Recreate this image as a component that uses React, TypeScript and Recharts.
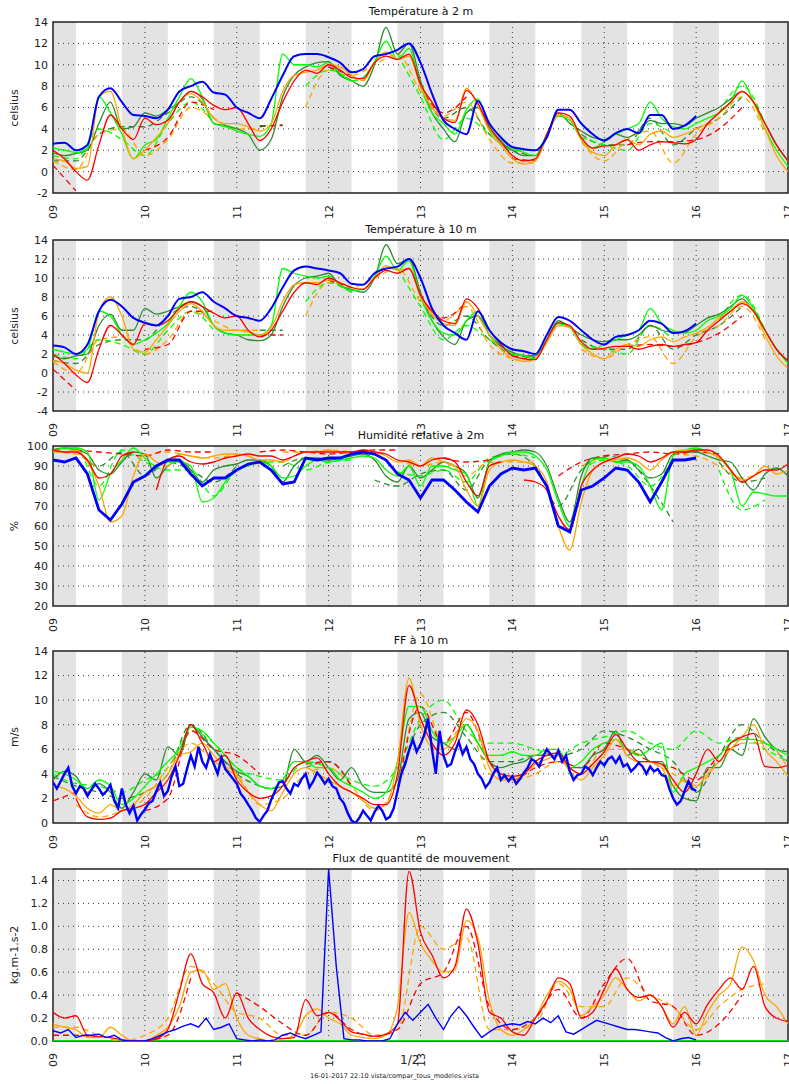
import { LineChart, Line, XAxis, YAxis, ReferenceArea, ReferenceLine } from 'recharts'

const FONT = '"DejaVu Sans", sans-serif'

const DAY_TICKS = [0, 1, 2, 3, 4, 5, 6, 7, 8]
const DAY_LABELS = ['09', '10', '11', '12', '13', '14', '15', '16', '17']
const NIGHTS = [[0, 0.25], [0.75, 1.25], [1.75, 2.25], [2.75, 3.25], [3.75, 4.25], [4.75, 5.25], [5.75, 6.25], [6.75, 7.25], [7.75, 8]]

const C = { obs: '#0000ff', red: '#ff0000', orange: '#ffa500', lime: '#00ff00', dkgreen: '#2e8b2e' }

// ---------- Température à 2 m (obs 3h, models 3h, dashed runs 6h)
const T2_OBS = [
  2.6, 2.7, 2.0, 2.5, 7.0, 7.8, 6.5, 5.3,
  5.2, 5.0, 5.8, 7.5, 8.0, 8.4, 7.4, 7.2,
  6.0, 5.5, 5.0, 6.8, 9.0, 10.8, 11.0, 11.0,
  10.7, 10.2, 9.3, 9.6, 10.8, 11.0, 11.4, 12.0,
  10.2, 7.3, 4.8, 4.0, 3.5, 6.6, 4.5, 3.2,
  2.3, 2.1, 2.0, 3.2, 5.8, 5.8, 4.5, 3.5,
  2.9, 3.6, 4.0, 3.6, 5.3, 5.3, 4.0, 4.3,
  5.2,
]
const T2_RED = [
  2.0, 1.2, 0.0, -0.8, 2.5, 5.3, 4.0, 3.0,
  5.0, 4.4, 4.8, 6.5, 7.5, 7.0, 6.2, 5.8,
  6.0, 4.5, 2.9, 4.0, 6.5, 8.5, 9.5, 9.2,
  10.0, 9.5, 8.8, 8.7, 10.2, 10.8, 10.5, 11.0,
  8.2, 6.5, 5.0, 4.6, 7.6, 6.4, 4.2, 2.8,
  1.5, 1.0, 1.2, 3.5, 5.5, 5.2, 3.2, 2.2,
  2.4, 2.5, 3.0, 2.0, 2.5, 2.8, 2.7, 2.6,
  3.0, 4.5, 5.5, 6.5, 7.5, 6.5, 4.5, 2.5,
  1.0,
]
const T2_ORANGE = [
  1.2, 1.0, 0.3, 0.5, 7.0, 7.5, 4.0, 1.2,
  2.0, 3.2, 4.5, 6.5, 7.3, 6.5, 5.0, 4.5,
  4.5, 4.2, 3.8, 4.5, 7.5, 9.0, 9.3, 9.5,
  10.0, 9.8, 9.0, 8.5, 10.2, 11.2, 10.5, 10.8,
  8.0, 6.0, 5.0, 4.8, 7.8, 6.2, 3.8, 2.5,
  1.2, 0.7, 1.0, 3.2, 5.3, 5.0, 3.0, 1.8,
  1.5, 2.5, 3.0, 2.5, 3.5, 3.8, 3.2, 3.5,
  4.0, 4.5, 5.5, 6.5, 7.5, 6.5, 4.0, 1.5,
  0.0,
]
const T2_LIME = [
  2.2, 2.0, 1.8, 2.2, 7.0, 5.5, 3.5, 1.2,
  2.5, 3.0, 5.0, 7.0, 8.7, 7.0, 4.5, 4.2,
  3.8, 3.5, 3.3, 4.5, 11.0, 10.0, 10.0, 9.8,
  10.2, 9.2, 8.5, 8.8, 10.3, 12.2, 10.5, 11.5,
  8.0, 5.5, 4.5, 3.5, 5.8, 6.8, 4.0, 3.0,
  2.2, 1.8, 1.5, 3.5, 5.2, 4.8, 3.0, 2.2,
  2.8, 3.5, 4.0, 4.5, 6.5, 5.0, 4.2, 4.0,
  4.5, 5.0, 5.5, 6.5, 8.5, 6.5, 4.0, 2.0,
  0.5,
]
const T2_DKGREEN = [
  1.8, 1.5, 1.7, 2.0, 4.5, 6.5, 4.0, 4.2,
  5.5, 5.2, 5.8, 6.5, 7.5, 6.8, 4.5, 4.3,
  4.0, 3.5, 2.0, 3.0, 7.0, 9.0, 9.8, 10.2,
  10.3, 9.0, 8.5, 8.0, 10.0, 13.5, 11.0, 12.0,
  8.5, 5.5, 4.0, 2.8, 5.5, 6.0, 4.0, 2.8,
  2.0, 1.5, 1.5, 3.5, 5.5, 4.5, 3.8, 3.2,
  3.0, 3.5, 3.2, 3.8, 4.8, 4.5, 4.5, 4.3,
  5.0, 5.5, 6.0, 6.8, 7.5, 6.5, 4.5, 2.5,
  1.0,
]
const T2_RED_D = [
  0.6, -1.8, null, null, 2.0, 3.2, 6.5, 5.8, null, 4.3, 4.3, null,
  9.8, 9.0, null, null, 8.0, 5.5, 7.0, null, 1.2, 1.0, null, null,
  null, 2.5, 2.8, 2.8, 3.0, 4.0, 6.0, null, null,
]
const T2_ORANGE_D = [
  1.0, 0.2, 3.5, 4.0, 1.5, 3.0, 6.0, 5.0, 4.0, 4.0, null, 6.0,
  9.5, 9.0, 10.0, 11.0, 7.5, 5.2, 6.5, 3.0, 0.8, 0.8, null, 2.8,
  1.0, 3.0, 3.8, 0.8, 3.5, 5.0, 7.0, 3.5, null,
]
const T2_LIME_D = [
  1.5, 1.2, 4.0, 3.0, 1.5, 4.5, 6.5, 4.5, null, 3.0, null, 8.0,
  9.5, 8.5, null, 11.0, 7.0, 3.0, 5.0, 3.5, 2.0, 2.0, null, 3.2,
  2.5, 2.0, 4.5, 3.5, null, 5.5, 8.0, 4.5, null,
]
const T2_DKGREEN_D = [
  1.0, 1.0, 3.5, 4.2, 4.2, 5.5, 7.0, 5.0, null, 4.2, 4.4, null,
  9.8, 8.5, null, null, 8.0, 5.0, 6.0, 3.5, 2.0, 1.5, null, 3.5,
  2.5, 2.5, 5.0, 2.5, 4.0, 5.0, 7.0, null, null,
]

// ---------- Température à 10 m
const T10_OBS = [
  2.9, 2.7, 2.0, 3.0, 6.5, 7.7, 7.0, 5.8,
  5.3, 5.0, 6.0, 7.8, 8.0, 8.5, 7.5, 6.8,
  6.0, 5.8, 5.5, 6.8, 9.0, 10.8, 11.2, 11.0,
  10.8, 10.5, 9.4, 9.3, 10.5, 11.0, 11.2, 12.0,
  10.0, 6.8, 5.0, 4.2, 3.5, 6.5, 4.5, 3.2,
  2.5, 2.3, 2.0, 4.0, 5.9, 5.5, 4.5, 3.5,
  3.0, 3.8, 4.0, 4.5, 5.5, 5.2, 4.2, 4.4,
  5.2,
]
const T10_RED = [
  2.0, 1.0, -0.2, -1.0, 2.5, 5.0, 4.0, 3.0,
  5.2, 5.0, 5.5, 6.8, 7.5, 7.0, 6.3, 5.8,
  6.0, 4.5, 3.8, 4.5, 6.5, 8.5, 9.5, 9.3,
  10.0, 9.5, 9.0, 8.8, 10.0, 10.8, 10.5, 11.0,
  8.2, 6.5, 5.5, 5.2, 7.8, 6.8, 4.5, 3.0,
  1.8, 1.5, 1.4, 3.5, 5.3, 5.0, 3.3, 2.5,
  2.6, 2.8, 2.8, 2.5, 2.8, 3.0, 2.8, 3.0,
  3.2, 4.5, 5.5, 6.5, 7.3, 6.5, 4.5, 2.5,
  1.3,
]
const T10_ORANGE = [
  1.3, 1.0, 0.3, 0.0, 6.5, 8.0, 6.0, 2.5,
  2.2, 3.5, 5.0, 6.5, 7.3, 6.5, 5.0, 4.5,
  4.5, 4.3, 4.0, 4.8, 7.5, 9.3, 9.5, 9.5,
  9.8, 9.5, 9.0, 8.8, 10.0, 11.3, 10.8, 11.0,
  8.0, 6.2, 5.2, 5.0, 7.5, 6.0, 4.0, 2.5,
  1.5, 1.2, 1.5, 3.2, 5.0, 4.8, 3.0, 2.0,
  1.5, 2.5, 3.0, 2.8, 3.5, 3.8, 3.3, 3.8,
  4.2, 4.8, 5.8, 6.5, 7.5, 6.5, 4.0, 1.8,
  0.5,
]
const T10_LIME = [
  2.5, 2.2, 2.0, 2.5, 6.5, 6.0, 4.0, 3.0,
  3.5, 4.2, 5.2, 7.0, 8.5, 7.5, 5.0, 4.2,
  4.0, 4.0, 4.0, 5.0, 11.0, 10.5, 10.2, 10.0,
  10.2, 9.2, 8.7, 8.8, 10.2, 12.3, 10.8, 11.8,
  8.0, 5.5, 4.2, 4.0, 5.5, 6.5, 4.0, 3.0,
  2.0, 1.8, 1.5, 3.5, 5.2, 4.8, 3.0, 2.5,
  3.0, 3.5, 4.0, 4.5, 6.8, 5.2, 4.5, 4.2,
  4.5, 5.5, 6.0, 6.8, 8.2, 6.8, 4.5, 2.5,
  1.0,
]
const T10_DKGREEN = [
  1.8, 1.5, 1.8, 2.0, 5.0, 6.2, 4.5, 4.5,
  6.8, 6.2, 6.5, 7.0, 7.5, 7.0, 5.0, 4.2,
  4.0, 3.5, 3.4, 4.0, 7.0, 9.2, 10.0, 10.2,
  10.5, 9.2, 8.8, 8.5, 10.0, 13.5, 11.5, 12.0,
  8.5, 5.5, 3.8, 3.0, 5.5, 6.0, 4.0, 2.8,
  2.2, 1.8, 1.8, 3.5, 5.5, 4.8, 4.0, 3.5,
  3.3, 3.5, 3.5, 4.0, 5.0, 4.5, 4.3, 4.3,
  5.0, 5.8, 6.2, 7.0, 7.8, 6.5, 4.5, 2.5,
  1.2,
]
const T10_RED_D = [
  0.4, -1.8, null, null, 2.5, 3.0, 6.5, 6.5, null, 4.0, 4.0, null,
  9.8, 9.0, null, null, 8.0, 5.8, 7.5, null, 1.8, 1.6, null, null,
  null, 2.8, 3.0, 2.8, 3.2, 4.2, 6.0, null, null,
]
const T10_ORANGE_D = [
  1.2, 0.0, 3.5, 3.8, 2.0, 3.5, 6.5, 5.5, 4.5, 4.5, null, 6.0,
  9.5, 9.0, 10.0, 11.0, 7.5, 5.5, 7.0, 3.0, 1.5, 1.2, null, 2.5,
  1.5, 3.0, 3.8, 1.0, 3.8, 5.0, 7.0, 3.5, null,
]
const T10_LIME_D = [
  2.0, 1.5, 3.5, 3.0, 2.0, 4.5, 6.5, 4.5, null, 3.5, null, 7.5,
  9.5, 8.5, null, 11.0, 7.0, 3.5, 5.0, 3.5, 2.5, 2.0, null, 3.0,
  2.5, 2.0, 5.0, 3.5, null, 5.5, 8.2, 4.5, null,
]
const T10_DKGREEN_D = [
  1.3, 1.0, 3.0, 3.5, 3.5, 6.0, 7.0, 5.0, null, 4.5, 4.5, null,
  9.8, 8.5, null, null, 8.0, 5.0, 6.0, 3.5, 2.0, 1.8, null, 3.5,
  2.5, 2.5, 5.0, 2.5, 4.0, 5.0, 7.0, null, null,
]

// ---------- Humidité relative à 2m
const RH_OBS = [
  93, 92, 94, 86, 68, 63, 71, 82,
  85, 90, 93, 93, 86, 80, 84, 84,
  88, 91, 92, 88, 81, 82, 94, 93,
  94, 94, 96, 97, 96, 93, 86, 83,
  74, 83, 83, 78, 72, 67, 80, 86,
  89, 88, 89, 80, 60, 57, 78, 80,
  84, 89, 88, 82, 72, 82, 93, 93,
  94,
]
const RH_RED = [
  98, 97, 97, 93, 84, 86, 95, 97,
  null, 78, 93, 95, 92, 91, 92, 94,
  95, 96, 95, 95, 93, 95, 97, 97,
  97, 97, 97, 98, 97, 96, 93, 92,
  90, 93, 94, 92, 82, 75, 90, 92,
  null, 83, 82, 78, 65, 58, 80, 88,
  92, 94, 96, 95, 92, 94, 97, 97,
  98, 98, 95, 88, 82, 85, 88, 88,
  91,
]
const RH_ORANGE = [
  98, 97, 98, 92, 80, 62, 65, 85,
  96, 92, 90, 96, 95, 94, 95, 96,
  96, 95, 93, 93, 92, 95, 97, 97,
  98, 97, 96, 98, 97, 95, 92, 93,
  90, 94, 92, 90, 78, 70, 88, 92,
  93, 92, 90, 82, 60, 48, 72, 88,
  92, 93, 94, 92, 88, 93, 97, 98,
  98, 97, 94, 88, 83, 85, 90, 86,
  88,
]
const RH_LIME = [
  97, 99, 99, 97, 73, 86, 93, 99,
  94, 90, 92, 92, 90, 72, 74, 82,
  88, 90, 92, 90, 84, 85, 90, 93,
  92, 93, 94, 95, 94, 88, 85, 90,
  80, 90, 90, 88, 86, 70, 92, 95,
  97, 97, 95, 88, 72, 60, 80, 93,
  94, 92, 92, 90, 80, 68, 95, 98,
  99, 97, 94, 88, 70, 77, 76, 75,
  75,
]
const RH_DKGREEN = [
  98, 99, 98, 96, 88, 86, 92, 97,
  96, 84, 90, 93, 88, 82, 88, 90,
  91, 93, 93, 90, 82, 90, 94, 94,
  93, 94, 95, 96, 93, 85, 82, 90,
  84, 88, 92, 90, 86, 74, 92, 96,
  97, 98, 97, 90, 74, 62, 85, 94,
  94, 92, 93, 88, 84, 86, 96, 97,
  97, 95, 93, 92, 84, 78, 86, 89,
  85,
]
const RH_RED_D = [
  null, 98, 97, 96, 95, 98, 97, 97, null, 97, 98, 97,
  96, 97, 98, 98, null, 94, 92, 93, null, null, 85, 92,
  95, 96, 97, 96, 97, 96, null, null, null,
]
const RH_ORANGE_D = [
  97, 96, 88, null, 95, 97, 95, 94, 96, null, 97, 97,
  98, 97, null, 93, 90, 92, 85, 92, 92, 92, null, 90,
  94, 93, null, 96, 95, 90, 84, 88, null,
]
const RH_LIME_D = [
  98, 99, 80, 98, 92, 88, 88, 75, 88, 92, 92, 88,
  92, 93, null, 87, 85, 88, 82, 94, 96, 94, null, 88,
  93, 90, 80, 95, null, 88, 68, 73, null,
]
const RH_DKGREEN_D = [
  null, 98, 90, 97, 85, 92, 88, 82, 90, null, 90, 94,
  92, null, 83, 80, 86, 88, 78, 93, 96, 90, 70, 88,
  95, 93, 80, 62, null, 92, 82, 84, null,
]

// ---------- FF à 10 m (obs hourly)
const FF_OBS = [
  3.3, 2.8, 3.4, 4.0, 4.5, 3.0, 2.4, 3.0, 2.8, 2.2, 2.7, 3.2,
  2.8, 2.3, 2.6, 3.1, 1.8, 1.2, 2.8, 1.5, 0.8, 1.4, 0.2, 0.7,
  1.1, 1.6, 1.8, 2.6, 3.3, 2.2, 2.6, 3.8, 4.6, 3.0, 3.2, 4.4,
  5.5, 4.6, 6.2, 5.0, 4.5, 5.6, 4.8, 4.0, 5.3, 4.4, 4.0, 3.6,
  3.2, 2.4, 2.0, 1.5, 1.0, 0.4, 0.1, 0.6, 1.0, 1.9, 2.6, 3.3,
  3.4, 2.8, 2.4, 3.2, 3.0, 3.6, 4.0, 2.9, 3.4, 4.1, 3.7, 3.2,
  3.6, 3.0, 2.8, 2.0, 1.6, 0.8, 0.2, 0.0, 0.4, 1.0, 0.6, 0.2,
  0.9, 1.4, 1.0, 0.3, 0.5, 1.2, 2.6, 4.0, 4.8, 5.9, 6.8, 5.8,
  6.4, 7.2, 8.5, 6.0, 4.0, 7.5, 5.5, 4.6, 4.8, 5.8, 6.6, 5.6,
  6.2, 5.2, 4.8, 4.0, 3.6, 2.9, 3.3, 4.0, 4.5, 3.5, 3.9, 3.4,
  3.8, 3.2, 3.6, 4.1, 4.5, 5.2, 5.0, 4.6, 5.4, 6.0, 5.6, 5.2,
  5.9, 5.0, 5.5, 4.2, 3.5, 3.9, 4.0, 4.6, 4.4, 3.9, 4.5, 5.0,
  4.7, 5.2, 5.4, 4.9, 5.4, 4.6, 4.8, 4.2, 4.5, 4.9, 4.6, 4.0,
  4.6, 4.2, 4.4, 3.9, 3.8, 2.8, 2.0, 1.5, 1.8, 2.6, 3.4, 2.8,
  2.6,
]
const FF_RED = [
  null, null, 2.0, 0.5, 0.3, 0.4, 1.0, 1.2,
  1.5, 2.5, 3.5, 5.5, 8.0, 6.5, 5.0, 5.5,
  3.5, 2.5, 2.0, 2.2, 3.0, 4.5, 5.0, 5.3,
  4.0, 3.0, 2.5, 2.0, 1.5, 1.5, 4.0, 11.2,
  8.5, 6.5, 5.5, 6.5, 9.2, 8.0, 5.0, 4.0,
  3.8, 4.0, 5.0, 5.5, 5.7, 4.5, 4.0, 4.8,
  5.8, 7.2, 6.0, 5.0, 5.0, 4.8, 3.5, 2.5,
  4.0, 6.0, 5.0, 6.5, 7.0, 7.3, 4.6, 4.5,
  4.7,
]
const FF_ORANGE = [
  3.0, 2.8, 2.2, 1.2, 0.8, 1.5, 1.0, 1.5,
  2.5, 3.0, 4.0, 5.5, 5.8, 6.5, 5.5, 4.5,
  3.8, 2.5, 1.5, 1.0, 2.5, 4.0, 4.5, 4.0,
  3.5, 3.0, 2.5, 1.8, 1.2, 1.5, 5.0, 11.8,
  8.0, 6.2, 6.0, 7.0, 8.5, 7.5, 4.5, 3.5,
  3.5, 4.0, 4.8, 5.2, 5.5, 4.2, 3.5, 4.5,
  5.5, 6.8, 5.5, 5.0, 5.0, 4.5, 3.0, 3.5,
  3.0, 4.0, 5.0, 6.0, 7.0, 8.0, 6.0, 5.0,
  3.8,
]
const FF_LIME = [
  4.2, 4.0, 3.5, 2.8, 3.5, 3.0, 1.5, 2.0,
  3.0, 4.0, 5.0, 6.0, 7.8, 7.5, 6.5, 5.5,
  4.5, 3.8, 3.0, 2.8, 3.5, 5.0, 5.0, 4.5,
  4.5, 3.5, 3.0, 2.5, 2.0, 2.5, 5.0, 9.5,
  9.5, 7.5, 6.5, 7.0, 8.0, 6.5, 5.5, 5.5,
  5.8, 5.5, 5.5, 6.0, 6.0, 4.5, 5.0, 6.0,
  6.5, 6.8, 6.0, 5.5, 6.0, 6.5, 2.5, 4.0,
  4.5, 5.0, 5.5, 6.5, 6.8, 6.8, 6.5, 6.0,
  5.5,
]
const FF_DKGREEN = [
  3.5, 4.2, 3.8, 2.5, 3.2, 2.5, 1.2, 2.5,
  4.0, 3.5, 6.2, 5.5, 8.0, 7.0, 6.0, 5.0,
  4.2, 3.8, 3.0, 2.8, 3.0, 6.0, 5.0, 5.5,
  4.5, 3.5, 4.5, 3.0, 2.5, 2.5, 3.5, 8.5,
  9.0, 7.0, 6.5, 6.0, 8.0, 6.5, 5.0, 4.5,
  4.8, 5.0, 5.5, 5.5, 5.5, 4.5, 4.5, 5.5,
  6.0, 7.5, 5.5, 6.0, 5.0, 5.0, 3.0, 2.0,
  1.8, 4.5, 4.5, 6.0, 5.5, 8.5, 7.0, 6.0,
  5.8,
]
const FF_RED_D = [
  1.8, 2.5, null, null, 1.0, 2.0, 7.5, 6.0, 5.5, 4.0, null, 4.8,
  5.0, 3.0, null, 2.5, 9.5, 6.5, 9.0, 5.0, 3.5, 4.5, 5.0, 4.5,
  6.5, 6.0, 5.0, 4.5, 3.5, 5.5, 6.5, null, null,
]
const FF_ORANGE_D = [
  null, 1.5, 0.5, 1.0, 2.0, 4.5, 6.5, 5.0, 4.0, 1.5, 2.0, 4.0,
  4.5, 3.0, 1.0, 3.5, 10.5, 6.5, 8.0, 4.0, 3.5, 4.0, 5.0, 4.0,
  6.0, 6.0, 5.0, 4.0, 3.0, 5.0, 6.5, 6.5, 4.5,
]
const FF_LIME_D = [
  4.0, 3.2, 3.0, 2.5, 3.5, 4.5, 7.5, 6.5, 4.5, 3.8, 3.5, 5.0,
  4.5, 3.5, 3.0, 4.5, 8.5, 10.0, 7.5, 6.5, 6.5, 6.0, 5.5, 6.5,
  7.0, 7.5, 6.5, 6.0, 7.5, 6.5, 7.0, 6.0, 5.0,
]
const FF_DKGREEN_D = [
  3.8, 3.0, 2.5, 2.0, 2.5, 4.0, 8.0, 6.0, 4.0, 3.0, null, 4.5,
  5.0, 3.0, null, 3.0, 8.0, 9.0, 7.0, 5.0, 5.0, 5.5, 5.5, 6.0,
  7.5, 7.0, 6.0, 5.0, 2.5, 5.5, 8.0, 6.5, 5.0,
]

// ---------- Flux de quantité de mouvement (obs every 2h)
const FLUX_OBS = [
  0.09, 0.07, 0.10, 0.03, 0.05, 0.05, 0.06, 0.03, 0.05, 0.01, 0.00, 0.00,
  0.00, 0.02, 0.05, 0.08, 0.10, 0.13, 0.15, 0.12, 0.20, 0.10, 0.12, 0.15,
  0.02, 0.01, 0.00, 0.01, 0.00, 0.01, 0.05, 0.07, 0.04, 0.02, 0.05, 0.08,
  1.50, 0.65, 0.02, 0.01, 0.01, 0.00, 0.00, 0.00, 0.02, 0.15, 0.25, 0.18,
  0.25, 0.32, 0.20, 0.10, 0.22, 0.30, 0.22, 0.12, 0.03, 0.08, 0.12, 0.14,
  0.15, 0.14, 0.17, 0.15, 0.20, 0.16, 0.22, 0.08, 0.06, 0.10, 0.14, 0.18,
  0.16, 0.14, 0.12, 0.10, 0.10, 0.09, 0.08, 0.07, 0.03, 0.00, 0.02, 0.03,
  0.01,
]
const FLUX_RED = [
  0.25, 0.20, 0.22, 0.05, 0.04, 0.03, 0.01, 0.00,
  0.00, 0.02, 0.10, 0.43, 0.76, 0.50, 0.42, 0.20,
  0.42, 0.20, 0.10, 0.04, 0.02, 0.03, 0.36, 0.22,
  0.25, 0.18, 0.08, 0.06, 0.04, 0.06, 0.15, 1.48,
  0.95, 0.75, 0.55, 0.65, 1.15, 0.85, 0.25, 0.20,
  0.08, 0.05, 0.20, 0.35, 0.55, 0.50, 0.20, 0.25,
  0.45, 0.63, 0.45, 0.38, 0.40, 0.30, 0.12, 0.25,
  0.15, 0.32, 0.45, 0.55, 0.45, 0.65, 0.30, 0.20,
  0.17,
]
const FLUX_ORANGE = [
  0.15, 0.12, 0.10, 0.03, 0.03, 0.12, 0.05, 0.00,
  0.00, 0.05, 0.12, 0.30, 0.60, 0.62, 0.45, 0.50,
  0.20, 0.05, 0.02, 0.00, 0.02, 0.05, 0.22, 0.28,
  0.20, 0.15, 0.05, 0.03, 0.02, 0.05, 0.30, 1.12,
  0.85, 0.70, 0.60, 0.62, 1.05, 0.90, 0.35, 0.10,
  0.05, 0.10, 0.20, 0.40, 0.52, 0.45, 0.22, 0.30,
  0.40, 0.55, 0.45, 0.35, 0.40, 0.30, 0.15, 0.30,
  0.05, 0.25, 0.40, 0.50, 0.82, 0.70, 0.40, 0.30,
  0.15,
]
const FLUX_RED_D = [
  0.05, 0.05, 0.03, null, 0.00, 0.05, 0.55, null, 0.42, 0.30, 0.15, 0.05,
  0.25, 0.10, 0.04, 0.10, 0.50, 0.60, 1.00, 0.30, 0.10, 0.20, 0.45, 0.20,
  0.50, 0.72, 0.35, 0.30, 0.05, 0.15, 0.40, null, null,
]
const FLUX_ORANGE_D = [
  0.12, 0.12, 0.05, 0.00, 0.05, 0.20, 0.65, 0.50, 0.25, 0.20, 0.05, 0.05,
  0.25, 0.20, 0.05, 0.10, 1.00, 0.80, 0.90, 0.10, 0.10, 0.15, 0.50, 0.30,
  0.30, 0.55, 0.40, 0.30, 0.10, 0.30, 0.45, 0.50, null,
]
const FLUX_GREEN = [0, 0, 0, 0, 0, 0, 0, 0, 0]

const pts = (step: number, vals: (number | null)[]) => vals.map((y, i) => ({ x: i * step, y }))

const range = (a: number, b: number, s: number) => {
  const out: number[] = []
  for (let v = a; v <= b + 1e-9; v += s) out.push(Math.round(v * 10) / 10)
  return out
}

type Series = { vals: (number | null)[]; step: number; color: string; width?: number; dashed?: boolean; linear?: boolean }

type PanelDef = {
  title: string
  unit: string
  top: number
  height: number
  domain: [number, number]
  yTicks: number[]
  fmt?: (v: number) => string
  series: Series[]
}

const models = (red, orange, lime, dk, redD, orangeD, limeD, dkD): Series[] => [
  { vals: dkD, step: 0.25, color: C.dkgreen, dashed: true },
  { vals: limeD, step: 0.25, color: C.lime, dashed: true },
  { vals: orangeD, step: 0.25, color: C.orange, dashed: true },
  { vals: redD, step: 0.25, color: C.red, dashed: true },
  { vals: dk, step: 0.125, color: C.dkgreen },
  { vals: lime, step: 0.125, color: C.lime },
  { vals: orange, step: 0.125, color: C.orange },
  { vals: red, step: 0.125, color: C.red },
]

const PANELS: PanelDef[] = [
  {
    title: 'Température à 2 m', unit: 'celsius', top: 22, height: 171, domain: [-2, 14], yTicks: range(-2, 14, 2),
    series: [...models(T2_RED, T2_ORANGE, T2_LIME, T2_DKGREEN, T2_RED_D, T2_ORANGE_D, T2_LIME_D, T2_DKGREEN_D),
      { vals: T2_OBS, step: 0.125, color: C.obs, width: 2 }],
  },
  {
    title: 'Température à 10 m', unit: 'celsius', top: 240, height: 171, domain: [-4, 14], yTicks: range(-4, 14, 2),
    series: [...models(T10_RED, T10_ORANGE, T10_LIME, T10_DKGREEN, T10_RED_D, T10_ORANGE_D, T10_LIME_D, T10_DKGREEN_D),
      { vals: T10_OBS, step: 0.125, color: C.obs, width: 2 }],
  },
  {
    title: 'Humidité relative à 2m', unit: '%', top: 446, height: 160, domain: [20, 100], yTicks: range(20, 100, 10),
    series: [...models(RH_RED, RH_ORANGE, RH_LIME, RH_DKGREEN, RH_RED_D, RH_ORANGE_D, RH_LIME_D, RH_DKGREEN_D),
      { vals: RH_OBS, step: 0.125, color: C.obs, width: 2.8, linear: true }],
  },
  {
    title: 'FF à 10 m', unit: 'm/s', top: 651, height: 172, domain: [0, 14], yTicks: range(0, 14, 2),
    series: [...models(FF_RED, FF_ORANGE, FF_LIME, FF_DKGREEN, FF_RED_D, FF_ORANGE_D, FF_LIME_D, FF_DKGREEN_D),
      { vals: FF_OBS, step: 1 / 24, color: C.obs, width: 2.4, linear: true }],
  },
  {
    title: 'Flux de quantité de mouvement', unit: 'kg.m-1.s-2', top: 869, height: 172, domain: [0, 1.5], yTicks: range(0, 1.4, 0.2),
    fmt: (v) => v.toFixed(1),
    series: [
      { vals: FLUX_GREEN, step: 1, color: C.dkgreen },
      { vals: FLUX_GREEN, step: 1, color: C.lime },
      { vals: FLUX_ORANGE_D, step: 0.25, color: C.orange, dashed: true },
      { vals: FLUX_RED_D, step: 0.25, color: C.red, dashed: true },
      { vals: FLUX_ORANGE, step: 0.125, color: C.orange },
      { vals: FLUX_RED, step: 0.125, color: C.red },
      { vals: FLUX_OBS, step: 1 / 12, color: C.obs, width: 1.4, linear: true },
    ],
  },
]

const TOP_PAD = 8

function DayTick({ x, y, payload }: any) {
  const tx = x + 4
  const ty = y + 4
  return (
    <text x={tx} y={ty} transform={`rotate(-90 ${tx} ${ty})`} textAnchor="end" fontSize={11} fill="#222" fontFamily={FONT}>
      {DAY_LABELS[payload.value]}
    </text>
  )
}

function Panel({ p }: { p: PanelDef }) {
  const [lo, hi] = p.domain
  const gridY = p.yTicks.filter((v) => v > lo && v < hi)
  return (
    <>
      <div style={{ position: 'absolute', top: p.top - 17, left: 53, width: 736, textAlign: 'center', fontSize: 11, color: '#111' }}>
        {p.title}
      </div>
      <div style={{ position: 'absolute', top: p.top + p.height / 2, left: 14, width: 0, height: 0 }}>
        <div style={{ position: 'absolute', transform: 'translate(-50%, -50%) rotate(-90deg)', whiteSpace: 'nowrap', fontSize: 11, color: '#222' }}>
          {p.unit}
        </div>
      </div>
      <div style={{ position: 'absolute', top: p.top - TOP_PAD, left: 0 }}>
        <LineChart width={789} height={p.height + 30 + TOP_PAD} margin={{ top: TOP_PAD, right: 1, bottom: 0, left: 0 }}>
          <XAxis type="number" dataKey="x" domain={[0, 8]} ticks={DAY_TICKS} interval={0} height={30}
            axisLine={false} tickLine={false} tick={<DayTick />} allowDataOverflow />
          <YAxis type="number" domain={p.domain} ticks={p.yTicks} interval={0} width={53}
            axisLine={false} tickLine={false} tickSize={0} tickMargin={5} tickFormatter={p.fmt}
            tick={{ fontSize: 11, fill: '#222', fontFamily: FONT }} allowDataOverflow />
          {NIGHTS.map(([a, b]) => (
            <ReferenceArea key={'n' + a} x1={a} x2={b} y1={lo} y2={hi} fill="#e3e3e3" fillOpacity={1} stroke="none" />
          ))}
          {gridY.map((v) => (
            <ReferenceLine key={'gy' + v} y={v} stroke="#333" strokeDasharray="1 4" />
          ))}
          {DAY_TICKS.slice(1, -1).map((d) => (
            <ReferenceLine key={'gx' + d} x={d} stroke="#333" strokeDasharray="1 4" />
          ))}
          {p.series.map((s, i) => (
            <Line key={i} data={pts(s.step, s.vals)} dataKey="y" type={s.linear ? 'linear' : 'monotone'}
              stroke={s.color} strokeWidth={s.width ?? 1.3} strokeDasharray={s.dashed ? '6 4' : undefined}
              dot={false} activeDot={false} isAnimationActive={false} legendType="none" />
          ))}
          <ReferenceArea x1={0} x2={8} y1={lo} y2={hi} fill="none" stroke="#222" strokeWidth={1.5} />
        </LineChart>
      </div>
    </>
  )
}

export default function App() {
  return (
    <div style={{ position: 'absolute', left: 0, top: 0, width: 789, height: 1084, background: '#fff', fontFamily: FONT }}>
      {PANELS.map((p) => (
        <Panel key={p.title} p={p} />
      ))}
      <div style={{ position: 'absolute', top: 1053, left: 400, fontSize: 12, color: '#222' }}>1/2</div>
      <div style={{ position: 'absolute', top: 1072, left: 0, width: 789, textAlign: 'center', fontSize: 6.5, color: '#222' }}>
        16-01-2017 22:10 vista/compar_tous_modeles.vista
      </div>
    </div>
  )
}
